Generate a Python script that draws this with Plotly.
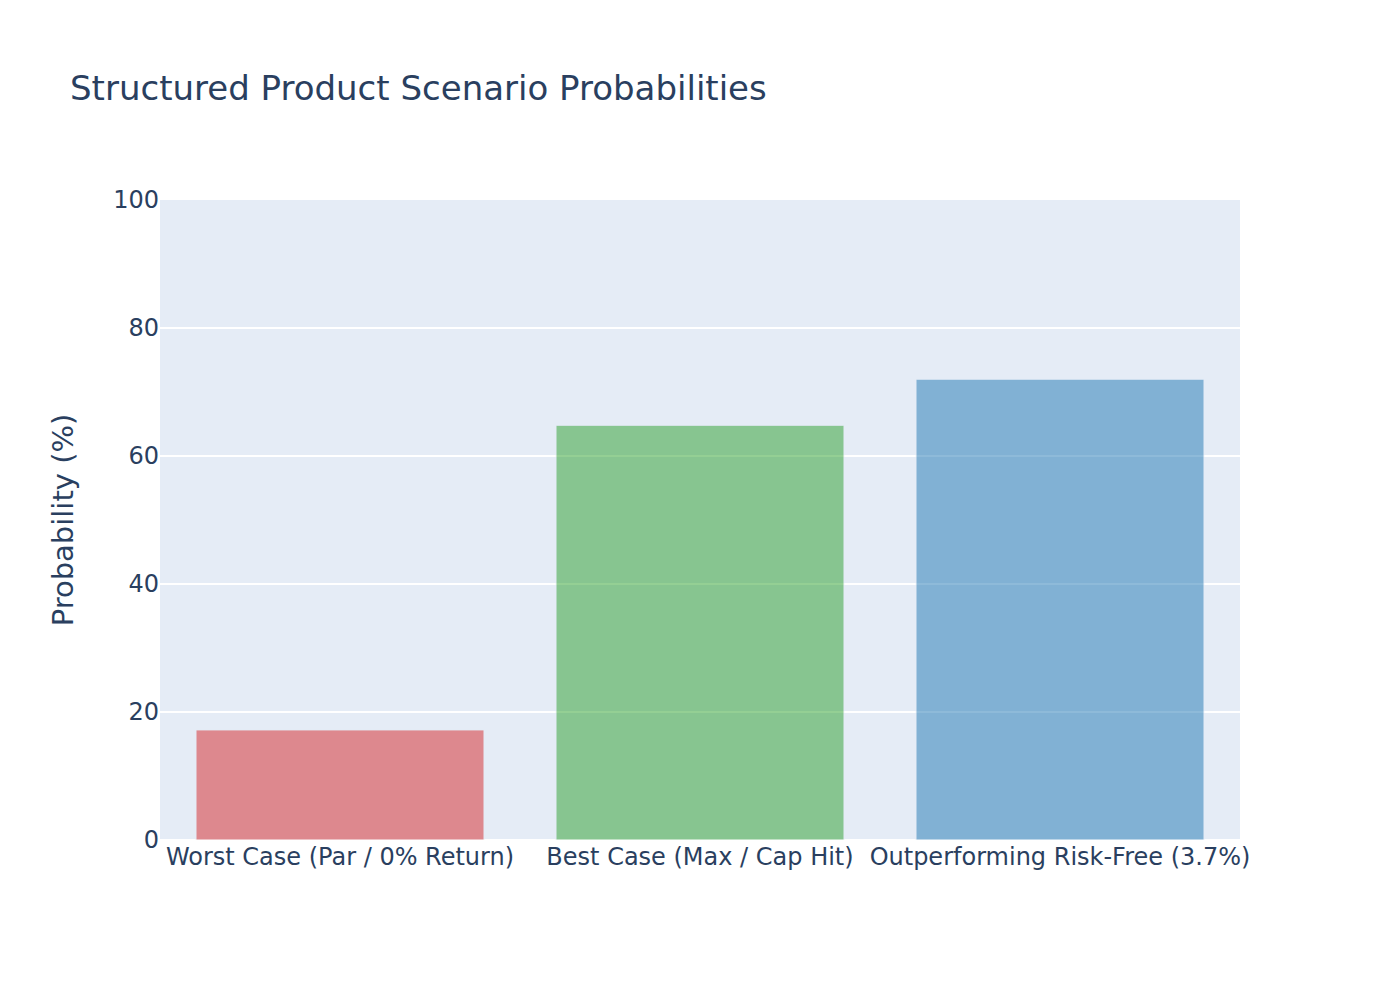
import plotly.graph_objects as go

categories = ["Worst Case (Par / 0% Return)", "Best Case (Max / Cap Hit)", "Outperforming Risk-Free (3.7%)"]
probabilities = [17.2, 64.8, 72.0]
colors = ["#d62728", "#2ca02c", "#1f77b4"]

fig = go.Figure(
    go.Bar(
        x=categories,
        y=probabilities,
        marker=dict(color=colors, opacity=0.5, line=dict(color="#E5ECF6", width=1)),
    )
)
fig.update_layout(
    template="plotly",
    width=1392,
    height=992,
    font=dict(family="DejaVu Sans", size=24, color="#2a3f5f"),
    title=dict(
        text="Structured Product Scenario Probabilities",
        x=62 / 1392, xanchor="left", xref="container",
        y=1 - 80 / 992, yanchor="middle", yref="container",
        font=dict(size=34),
    ),
    margin=dict(l=152, r=160, t=192, b=160),
    xaxis=dict(showgrid=False),
    yaxis=dict(title=dict(text="Probability (%)", standoff=31), range=[0, 100], dtick=20, gridwidth=2),
    showlegend=False,
)
fig.write_html("out.html")
